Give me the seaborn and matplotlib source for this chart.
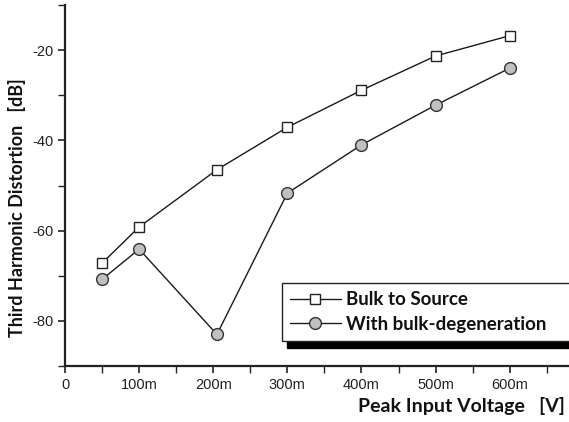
import matplotlib
matplotlib.use("Agg")
import matplotlib.pyplot as plt
from matplotlib.ticker import MultipleLocator, FixedLocator
import seaborn as sns
import pandas as pd

# ---- data ----
voltage_mV = [50, 100, 205, 300, 400, 500, 600]
bulk_to_source = [-67.2, -59.2, -46.5, -37.1, -28.9, -21.3, -16.8]
with_bulk_degen = [-70.8, -64.1, -83.0, -51.7, -41.0, -32.2, -24.0]
series_names = ["Bulk to Source", "With bulk-degeneration"]
x_ticks = [0, 100, 200, 300, 400, 500, 600]
x_tick_labels = ["0", "100m", "200m", "300m", "400m", "500m", "600m"]
y_ticks = [-80, -60, -40, -20]

sns.set_theme(style="ticks")
plt.rcParams["axes.unicode_minus"] = False
plt.rcParams["font.family"] = ["Liberation Sans", "DejaVu Sans"]

df1 = pd.DataFrame({"v": voltage_mV, "thd": bulk_to_source})
df2 = pd.DataFrame({"v": voltage_mV, "thd": with_bulk_degen})

fig = plt.figure(figsize=(5.69, 4.22), dpi=100)
ax = fig.add_axes([65/569, (422-366)/422, 1 - 65/569, (366-5)/422])

sns.lineplot(data=df1, x="v", y="thd", ax=ax, color="#1a1a1a", lw=1.0,
             marker="s", markersize=7.5, markerfacecolor="white",
             markeredgecolor="#222222", markeredgewidth=1.0,
             label=series_names[0], zorder=3)
sns.lineplot(data=df2, x="v", y="thd", ax=ax, color="#1a1a1a", lw=1.0,
             marker="o", markersize=8.5, markerfacecolor="#c0c0c0",
             markeredgecolor="#333333", markeredgewidth=1.0,
             label=series_names[1], zorder=3)

ax.set_xlim(0, 680)
ax.set_ylim(-90, -10)
ax.xaxis.set_major_locator(FixedLocator(x_ticks))
ax.set_xticklabels(x_tick_labels)
ax.xaxis.set_minor_locator(MultipleLocator(50))
ax.yaxis.set_major_locator(FixedLocator(y_ticks))
ax.yaxis.set_minor_locator(MultipleLocator(10))

for s in ["top", "right"]:
    ax.spines[s].set_visible(False)
for s in ["left", "bottom"]:
    ax.spines[s].set_linewidth(1.6)
    ax.spines[s].set_color("#222222")
ax.tick_params(axis="both", which="major", direction="out", length=5, width=1.2,
               colors="#222222", labelsize=10.5, labelcolor="#222222")
ax.tick_params(axis="both", which="minor", direction="out", length=5, width=1.0,
               colors="#222222")

lab_font = ["Lato", "DejaVu Sans"]
ax.set_xlabel("Peak Input Voltage   [V]", fontsize=14, fontweight="bold",
              family=lab_font, color="#111111")
ax.xaxis.set_label_coords(0.992, -0.085)
ax.xaxis.label.set_horizontalalignment("right")
ax.set_ylabel("Third Harmonic Distortion   [dB]", fontsize=13, fontweight="bold",
              family=lab_font, color="#111111")
ax.yaxis.set_label_coords(-0.077, 0.44)

x0 = (281.7 - 65) / 504
y_top = (366 - 282.7) / 361
leg = ax.legend(loc="upper left", bbox_to_anchor=(x0, y_top - 0.3, (580 - 281.7) / 504, 0.3),
                mode="expand",
                frameon=True, fancybox=False, handlelength=2.7, handletextpad=0.3,
                borderpad=0.45, labelspacing=0.4, borderaxespad=0,
                prop={"family": lab_font, "weight": "bold", "size": 13.5},
                shadow={"ox": 4, "oy": -5, "color": "black", "alpha": 1})
leg.get_frame().set_edgecolor("#222222")
leg.get_frame().set_linewidth(1.0)
for t in leg.get_texts():
    t.set_color("#111111")

fig.savefig("out.png", dpi=100)
